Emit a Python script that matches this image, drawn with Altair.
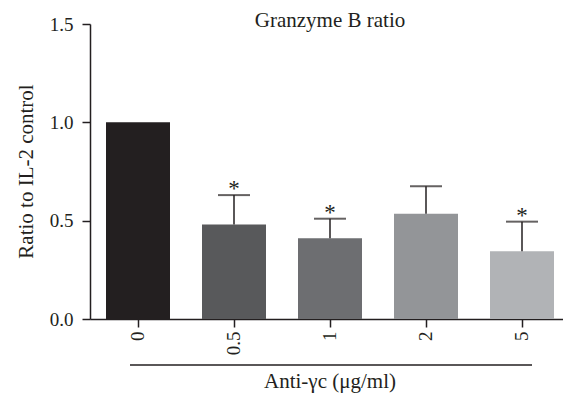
import altair as alt
import pandas as pd

# ---- data ----
doses = ["0", "0.5", "1", "2", "5"]
ratios = [1.0, 0.48, 0.41, 0.535, 0.345]
upper = [None, 0.63, 0.51, 0.675, 0.495]
signif = ["", "*", "*", "", "*"]
y_ticks = [0.0, 0.5, 1.0, 1.5]

title_text = "Granzyme B ratio"
y_title = "Ratio to IL-2 control"
x_title = "Anti-\u03b3c (\u03bcg/ml)"

bar_colors = ["#231f20", "#58595b", "#6d6e71", "#939598", "#b1b3b6"]
FONT = "Liberation Serif"
INK = "#231f20"

df = pd.DataFrame({"dose": doses, "ratio": ratios})
err = pd.DataFrame({"dose": [d for d, u in zip(doses, upper) if u is not None],
                    "ratio": [r for r, u in zip(ratios, upper) if u is not None],
                    "upper": [u for u in upper if u is not None]})
stars = pd.DataFrame({"dose": [d for d, s, u in zip(doses, signif, upper) if s],
                      "upper": [u for s, u in zip(signif, upper) if s],
                      "sig": [s for s in signif if s]})

xscale = alt.Scale(domain=doses, range=[0, 480], paddingInner=1/3, paddingOuter=1/6)
yscale = alt.Scale(domain=[0, 1.5], nice=False, zero=True)

x_enc = alt.X("dose:N", sort=doses, scale=xscale,
              axis=alt.Axis(title=None, labelAngle=-90, labelFont=FONT, labelFontSize=19,
                            labelColor=INK, labelPadding=4, tickSize=8, tickWidth=1.5,
                            tickColor=INK, domainColor=INK, domainWidth=1.5, grid=False))

bars = alt.Chart(df).mark_bar().encode(
    x=x_enc,
    y=alt.Y("ratio:Q", scale=yscale,
            axis=alt.Axis(title=None, values=y_ticks, format=".1f", labelFont=FONT,
                          labelFontSize=19, labelColor=INK, labelPadding=9, tickSize=8,
                          tickWidth=1.5, tickColor=INK, domainColor=INK, domainWidth=1.5,
                          grid=False)),
    color=alt.Color("dose:N", sort=doses, scale=alt.Scale(domain=doses, range=bar_colors),
                    legend=None),
)

err_rule = alt.Chart(err).mark_rule(color=INK, strokeWidth=1.5).encode(
    x=alt.X("dose:N", sort=doses, scale=xscale),
    y=alt.Y("ratio:Q", scale=yscale),
    y2="upper:Q",
)

caps = alt.Chart(err).mark_tick(color=INK, size=32, thickness=2, orient="horizontal").encode(
    x=alt.X("dose:N", sort=doses, scale=xscale),
    y=alt.Y("upper:Q", scale=yscale),
)

star_text = alt.Chart(stars).mark_text(font=FONT, fontSize=23, color=INK, baseline="alphabetic",
                                       dy=1).encode(
    x=alt.X("dose:N", sort=doses, scale=xscale),
    y=alt.Y("upper:Q", scale=yscale),
    text="sig:N",
)

title_mark = alt.Chart(pd.DataFrame({"t": [title_text]})).mark_text(
    font=FONT, fontSize=21, color=INK, align="center", baseline="alphabetic").encode(
    x=alt.value(240), y=alt.value(3), text="t:N")

ytitle_mark = alt.Chart(pd.DataFrame({"t": [y_title]})).mark_text(
    font=FONT, fontSize=21, color=INK, align="center", baseline="alphabetic", angle=270).encode(
    x=alt.value(-57), y=alt.value(147.5), text="t:N")

xtitle_mark = alt.Chart(pd.DataFrame({"t": [x_title]})).mark_text(
    font=FONT, fontSize=21, color=INK, align="center", baseline="alphabetic").encode(
    x=alt.value(240), y=alt.value(364), text="t:N")

bracket = alt.Chart(pd.DataFrame({"t": [x_title]})).mark_rule(color=INK, strokeWidth=1.5).encode(
    x=alt.value(40), x2=alt.value(442), y=alt.value(341))

chart = alt.layer(bars, err_rule, caps, star_text, title_mark, ytitle_mark, xtitle_mark,
                  bracket).properties(
    width=473, height=295,
    autosize=alt.AutoSizeParams(type="none"),
    padding={"left": 90, "top": 24, "right": 0, "bottom": 79},
    background="white",
).configure_view(stroke=None)

chart.save("out.html", embed_options={"renderer": "svg", "actions": False})
